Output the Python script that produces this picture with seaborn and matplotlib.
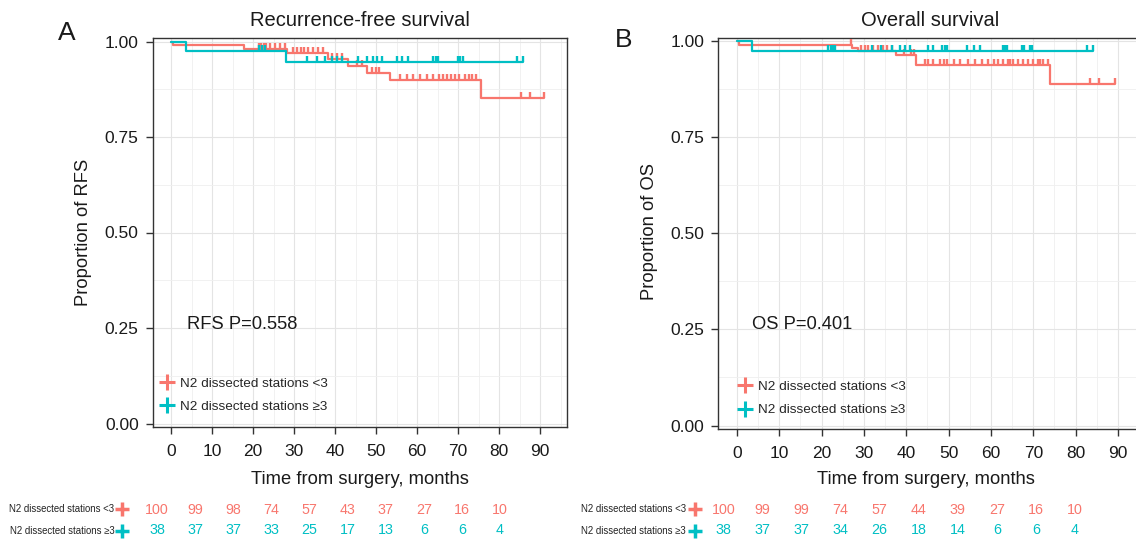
import numpy as np
import pandas as pd
import matplotlib
matplotlib.use('Agg')
import matplotlib.pyplot as plt
from matplotlib.path import Path
from matplotlib.lines import Line2D
from matplotlib.ticker import MultipleLocator
import seaborn as sns

RED = '#F8766D'
TEAL = '#00BFC4'
LABEL_LO = 'N2 dissected stations <3'
LABEL_HI = 'N2 dissected stations \u22653'

# ---- panel A: recurrence-free survival (step times, survival levels, censor times) ----
rfs_lo_t = [0, 0.4, 17.9, 28.4, 38.4, 43.2, 47.7, 53.5, 75.5, 91.0]
rfs_lo_s = [1.00, 0.99, 0.98, 0.969, 0.955, 0.937, 0.918, 0.899, 0.853, 0.853]
rfs_lo_cens = [21.5, 22.0, 22.6, 23.2, 24.2, 25.4, 26.6, 27.8,
               29.8, 30.7, 31.6, 32.4, 33.5, 34.7, 35.9, 37.1,
               39.3, 40.5, 41.7, 45.4, 46.5, 49.0, 50.0, 50.8,
               55.8, 57.5, 59.1, 60.7, 62.4, 64.0, 65.4, 66.4, 67.4, 68.4,
               69.3, 70.3, 71.7, 72.6, 73.4, 74.5, 85.4, 87.5, 91.0]
rfs_hi_t = [0, 3.6, 28.0, 85.8]
rfs_hi_s = [1.00, 0.974, 0.946, 0.946]
rfs_hi_cens = [21.5, 22.2, 22.9, 33.1, 35.5, 37.6, 39.2, 40.4, 41.8, 45.7,
               47.7, 49.3, 50.3, 51.5, 55.1, 56.3, 57.9, 64.0, 64.6, 65.2,
               70.0, 70.6, 71.2, 84.4, 85.8]

# ---- panel B: overall survival ----
os_lo_t = [0, 0.5, 27.1, 28.7, 37.6, 42.3, 73.9, 89.3]
os_lo_s = [1.00, 0.99, 0.982, 0.974, 0.963, 0.937, 0.888, 0.888]
os_lo_cens = [26.9, 29.4, 30.2, 31.0, 32.2, 33.4, 34.5, 35.4, 36.5,
              39.5, 41.1, 41.8,
              44.4, 45.2, 46.4, 48.0, 48.8, 49.6, 51.2, 52.7, 54.6, 56.2,
              57.8, 59.4, 60.6, 61.7, 62.8, 64.0, 64.5, 65.3, 66.5, 67.6,
              68.8, 70.0, 71.1, 71.5, 72.3, 73.5, 83.5, 85.6, 89.3]
os_hi_t = [0, 3.6, 84.0]
os_hi_s = [1.00, 0.974, 0.974]
os_hi_cens = [21.5, 22.1, 22.7, 23.2, 32.0, 34.1, 36.5, 38.5, 39.7, 40.9,
              45.2, 46.4, 48.5, 49.1, 49.6, 54.3, 55.9, 57.5, 62.8, 63.3,
              63.7, 67.3, 67.7, 69.3, 69.7, 82.6, 84.0]

# ---- numbers at risk ----
risk_times = [0, 10, 20, 30, 40, 50, 60, 70, 80, 90]
rfs_risk_lo = [100, 99, 98, 74, 57, 43, 37, 27, 16, 10]
rfs_risk_hi = [38, 37, 37, 33, 25, 17, 13, 6, 6, 4]
os_risk_lo = [100, 99, 99, 74, 57, 44, 39, 27, 16, 10]
os_risk_hi = [38, 37, 37, 34, 26, 18, 14, 6, 6, 4]

W, H = 1136, 540
FONT = ['Liberation Sans', 'DejaVu Sans']

sns.set_theme(style='white')
plt.rcParams['font.family'] = FONT

fig = plt.figure(figsize=(W / 100, H / 100), dpi=100)

# upward censor tick
TICK = Path([(0, 0), (0, 1)])


def axes_px(left, top, right, bottom):
    return fig.add_axes([left / W, 1 - bottom / H, (right - left) / W, (bottom - top) / H])


def step_value(times, surv, t):
    i = np.searchsorted(times, t, side='right') - 1
    return np.asarray(surv)[i]


def draw_curve(ax, times, surv, cens, color):
    df = pd.DataFrame({'t': times, 's': surv})
    sns.lineplot(data=df, x='t', y='s', drawstyle='steps-post', estimator=None,
                 sort=False, color=color, lw=1.6, ax=ax, zorder=3)
    cdf = pd.DataFrame({'t': cens, 's': [step_value(times, surv, c) for c in cens]})
    sns.scatterplot(data=cdf, x='t', y='s', marker=TICK, s=66, color=color,
                    edgecolor=color, linewidth=1.7, ax=ax, zorder=3)


def style_axes(ax):
    ax.set_xlim(-4.5, 96.6)
    ax.set_ylim(-0.008, 1.008)
    ax.xaxis.set_major_locator(MultipleLocator(10))
    ax.xaxis.set_minor_locator(MultipleLocator(5))
    ax.yaxis.set_major_locator(MultipleLocator(0.25))
    ax.yaxis.set_minor_locator(MultipleLocator(0.125))
    ax.set_yticklabels([f'{v:.2f}' for v in ax.get_yticks()])
    ax.grid(which='major', color='#E4E4E4', lw=0.8)
    ax.grid(which='minor', color='#EFEFEF', lw=0.6)
    ax.set_axisbelow(True)
    for sp in ax.spines.values():
        sp.set_color('#333333')
        sp.set_linewidth(1.0)
    ax.tick_params(which='major', direction='out', length=5, width=1,
                   color='#333333', labelsize=12.5, labelcolor='#1a1a1a',
                   bottom=True, left=True)
    ax.tick_params(axis='x', which='major', pad=7.5)
    ax.tick_params(axis='y', which='major', pad=5)
    ax.tick_params(which='minor', length=0)
    ax.set_xlabel('')
    ax.set_ylabel('')


def legend(ax, anchor_px):
    handles = [Line2D([], [], marker='+', ls='none', color=RED, markersize=11, mew=2.2),
               Line2D([], [], marker='+', ls='none', color=TEAL, markersize=11, mew=2.2)]
    ax.legend(handles, [LABEL_LO, LABEL_HI], loc='center left',
              bbox_to_anchor=(anchor_px[0] / W, 1 - anchor_px[1] / H),
              bbox_transform=fig.transFigure, frameon=False, fontsize=9.7,
              handlelength=0.9, handletextpad=0.5, labelspacing=0.8,
              borderpad=0, borderaxespad=0)


def risk_table(left0, right90, name_right, plus_x, lo, hi):
    rx = fig.add_axes([left0 / W, 1 - 541 / H, (right90 - left0) / W, 42 / H])
    rx.set_xlim(0, 90)
    rx.set_ylim(1.5, -0.5)
    rx.axis('off')
    k = (right90 - left0) / 90
    for row, (vals, color, label) in enumerate([(lo, RED, LABEL_LO), (hi, TEAL, LABEL_HI)]):
        for t, n in zip(risk_times, vals):
            rx.text(t, row, str(n), color=color, fontsize=10.3, ha='center', va='center')
        rx.text((name_right - left0) / k, row, label, fontsize=6.9, color='#222222',
                ha='right', va='center')
        rx.plot([(plus_x - left0) / k], [row], marker='+', color=color,
                markersize=10, mew=2.5, clip_on=False)


# ---------- panel A ----------
axA = axes_px(171 - 4.5 * 4.1, 41.5 - 0.008 * 382, 171 + 96.6 * 4.1, 41.5 + 1.008 * 382)
draw_curve(axA, rfs_lo_t, rfs_lo_s, rfs_lo_cens, RED)
draw_curve(axA, rfs_hi_t, rfs_hi_s, rfs_hi_cens, TEAL)
style_axes(axA)
axA.text(3.9, 0.26, 'RFS P=0.558', fontsize=13.2, va='center', ha='left', color='#1a1a1a')
legend(axA, (161, 395))
risk_table(157, 500, 114.5, 121.7, rfs_risk_lo, rfs_risk_hi)

# ---------- panel B ----------
axB = axes_px(737 - 4.5 * 4.233, 41 - 0.008 * 384.5, 737 + 96.6 * 4.233, 41 + 1.008 * 384.5)
draw_curve(axB, os_lo_t, os_lo_s, os_lo_cens, RED)
draw_curve(axB, os_hi_t, os_hi_s, os_hi_cens, TEAL)
style_axes(axB)
axB.text(3.5, 0.262, 'OS P=0.401', fontsize=13.2, va='center', ha='left', color='#1a1a1a')
legend(axB, (739, 398.5))
risk_table(723.3, 1075, 686, 695, os_risk_lo, os_risk_hi)

# ---------- titles, labels, panel letters ----------
def ftext(x, y, s, **kw):
    fig.text(x / W, 1 - y / H, s, color='#1a1a1a', **kw)

ftext(360, 20, 'Recurrence-free survival', fontsize=14.5, ha='center', va='center')
ftext(930, 20, 'Overall survival', fontsize=14.5, ha='center', va='center')
ftext(360, 479, 'Time from surgery, months', fontsize=13.2, ha='center', va='center')
ftext(926, 479, 'Time from surgery, months', fontsize=13.2, ha='center', va='center')
ftext(84, 232, 'Proportion of RFS', fontsize=13.2, ha='center', va='center', rotation=90)
ftext(650, 232, 'Proportion of OS', fontsize=13.2, ha='center', va='center', rotation=90)
ftext(67, 33, 'A', fontsize=19, ha='center', va='center')
ftext(624, 40, 'B', fontsize=19, ha='center', va='center')

fig.savefig('out.png', dpi=100)
